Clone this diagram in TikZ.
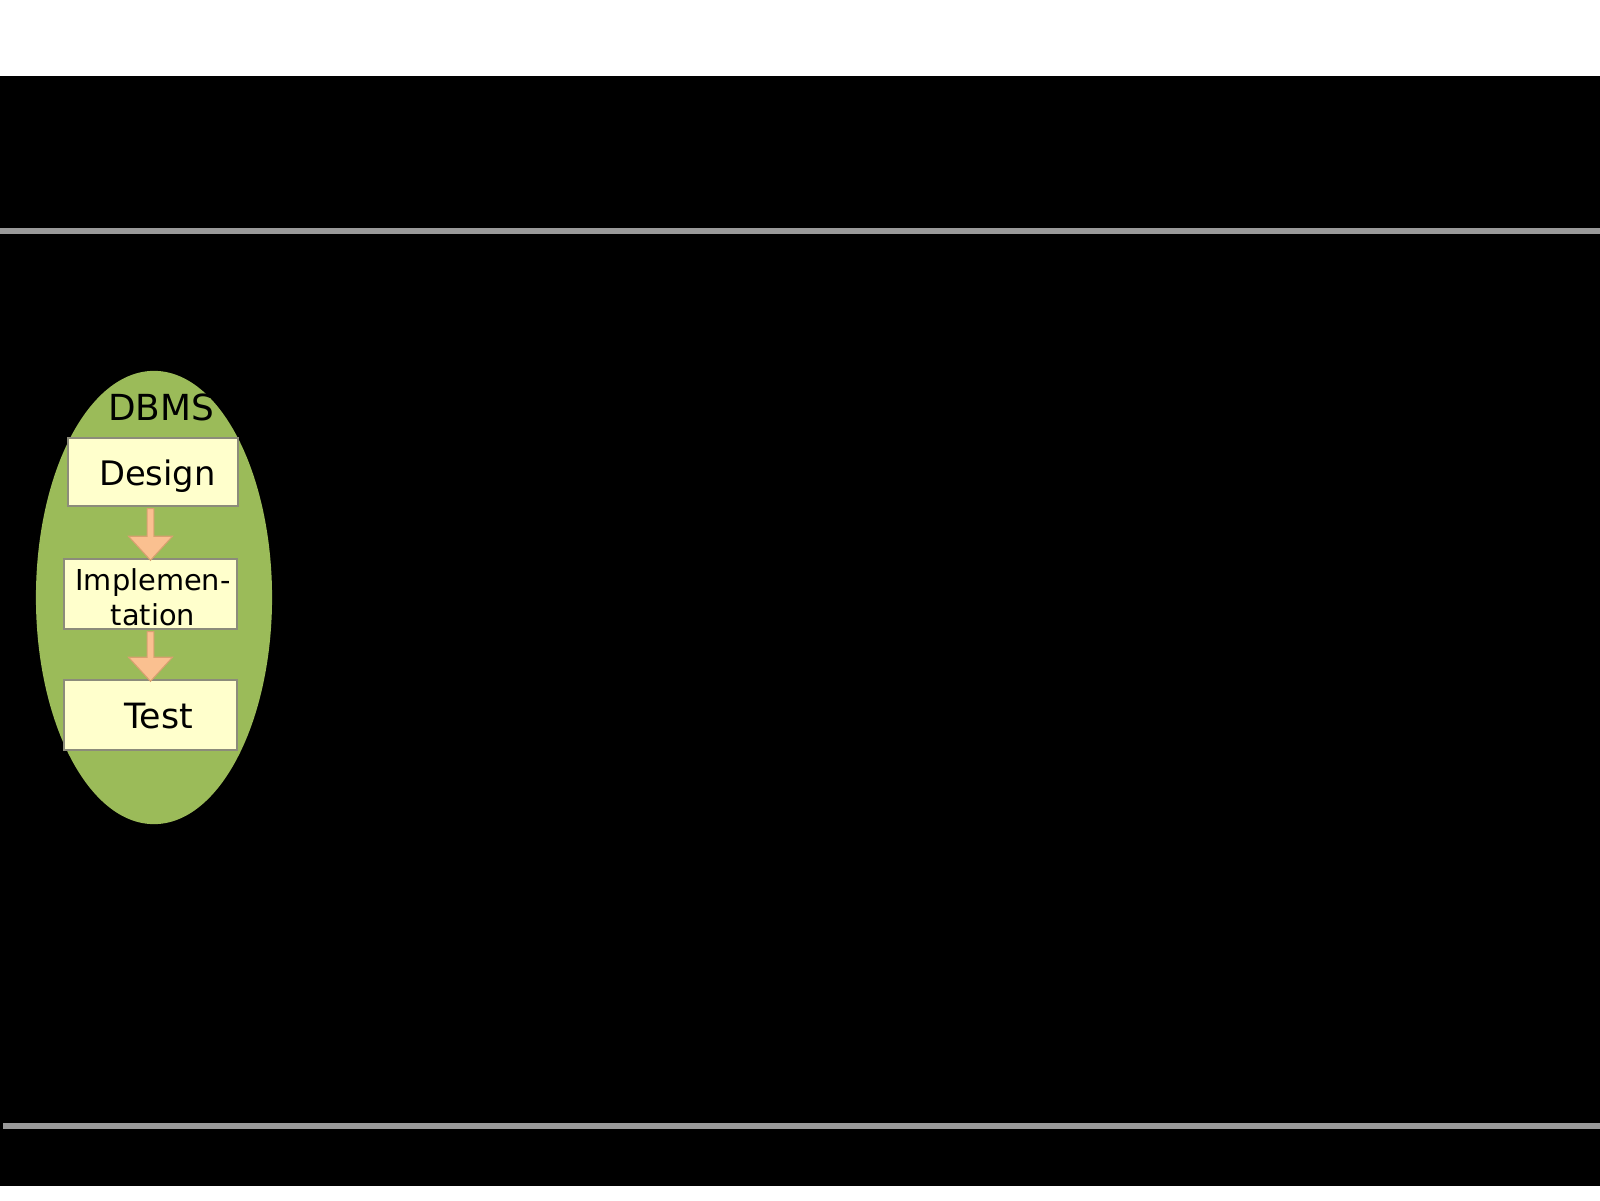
\documentclass[tikz,border=0pt]{standalone}
\usepackage{fontspec}
\setmainfont{DejaVu Sans}
\usetikzlibrary{calc,shapes.geometric}
\definecolor{dbmsgreen}{HTML}{9BBB59}
\definecolor{boxyellow}{HTML}{FFFFCC}
\definecolor{boxgray}{HTML}{8C8C7A}
\definecolor{arrowpeach}{HTML}{FAC090}
\definecolor{arrowedge}{HTML}{D9A070}
\definecolor{rulegray}{HTML}{9A9A9A}

\begin{document}
\begin{tikzpicture}[x=0.01cm,y=-0.01cm]
\tikzstyle{every node}+=[inner sep=0pt]
\tikzstyle{stagebox}=[draw=boxgray, fill=boxyellow, line width=0.4pt, text height=0.29cm, text depth=0.03cm, font=\fontsize{9.6}{11}\selectfont]
\tikzstyle{blockarrow}=[fill=arrowpeach, draw=arrowedge, line width=0.3pt]
\useasboundingbox (0,0) rectangle (1600,1201);
\fill [black] (0,76) rectangle (1600,1186);
\fill [rulegray] (0,228) rectangle (1600,234);
\fill [rulegray] (3,1123) rectangle (1600,1129);
\node [ellipse, fill=dbmsgreen, minimum width=2.36cm, minimum height=4.53cm] (dbmsarea) at (154,597.5) {};
\node [anchor=base, font=\fontsize{10.2}{12}\selectfont] (dbms) at (161,421) {DBMS};
\node [stagebox, minimum width=1.70cm, minimum height=0.68cm] (design) at (153,472) {\hspace{0.09cm}Design};
\node [stagebox, minimum width=1.73cm, minimum height=0.70cm, text height=, text depth=, align=center, font=\fontsize{8.2}{10}\selectfont] (impl) at (150.5,594) {\rule{0pt}{0.28cm}\hspace{0.05cm}Implemen-\\\hspace{0.05cm}tation};
\node [stagebox, minimum width=1.73cm, minimum height=0.70cm, font=\fontsize{9.9}{11}\selectfont] (test) at (150.5,715) {\hspace{0.16cm}Test};
\foreach \src/\dst in {design/impl, impl/test}
  \filldraw [blockarrow] ($(\dst.north |- \src.south)+(-3.3,2)$) -- ($(\dst.north)+(-3.3,-22)$)
    -- ($(\dst.north)+(-22,-22)$) -- ($(\dst.north)+(0,2)$) -- ($(\dst.north)+(22,-22)$)
    -- ($(\dst.north)+(3.3,-22)$) -- ($(\dst.north |- \src.south)+(3.3,2)$) -- cycle;
\end{tikzpicture}
\end{document}
